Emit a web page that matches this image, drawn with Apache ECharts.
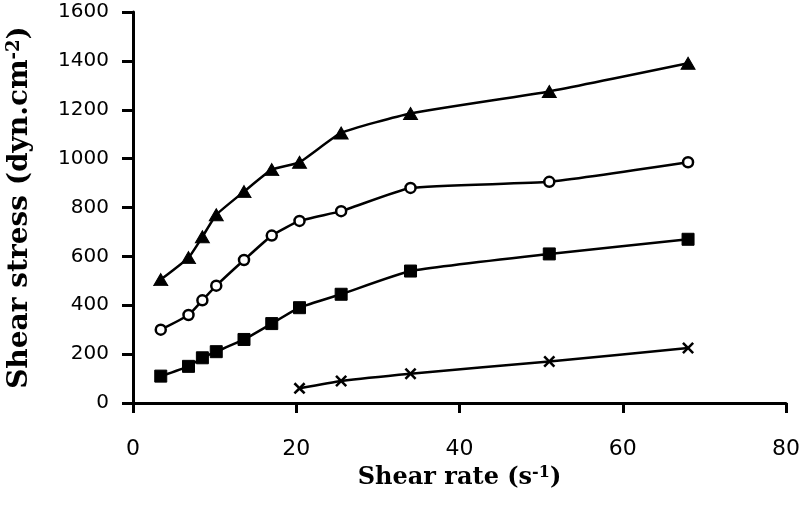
<!DOCTYPE html>
<html>
<head>
<meta charset="utf-8">
<script src="https://cdn.jsdelivr.net/npm/echarts@6/dist/echarts.min.js"></script>
<style>
html,body{margin:0;padding:0;background:#fff;}
#chart{width:799px;height:514px;}
</style>
</head>
<body>
<div id="chart"></div>
<script>
// Data
const shearRate = [3.4, 6.8, 8.5, 10.2, 13.6, 17, 20.4, 25.5, 34, 51, 68];
const triangleStress = [505, 595, 680, 770, 865, 955, 985, 1105, 1185, 1275, 1390];
const circleStress = [300, 360, 420, 480, 585, 685, 745, 785, 880, 905, 985];
const squareStress = [110, 150, 185, 210, 260, 325, 390, 445, 540, 610, 670];
const crossRate = [20.4, 25.5, 34, 51, 68];
const crossStress = [60, 90, 120, 170, 225];
const xTicks = [0, 20, 40, 60, 80];
const yTicks = [0, 200, 400, 600, 800, 1000, 1200, 1400, 1600];

const pairs = (xs, ys) => xs.map((x, i) => [x, ys[i]]);
const crossPath = 'path://M0,1.5L1.5,0L5,3.5L8.5,0L10,1.5L6.5,5L10,8.5L8.5,10L5,6.5L1.5,10L0,8.5L3.5,5Z';

const lineBase = {
  type: 'line',
  smooth: 0.15,
  lineStyle: { color: '#000', width: 2.5 },
  emphasis: { disabled: true },
  z: 2
};

const chart = echarts.init(document.getElementById('chart'), null, { renderer: 'canvas' });
chart.setOption({
  animation: false,
  backgroundColor: '#fff',
  grid: { left: 133, right: 13, top: 12, bottom: 111, containLabel: false, outerBoundsMode: 'none' },
  xAxis: {
    type: 'value',
    min: xTicks[0],
    max: xTicks[xTicks.length - 1],
    interval: 20,
    name: 'Shear rate (s{sup|-1})',
    nameLocation: 'middle',
    nameGap: 47,
    nameTextStyle: {
      fontFamily: 'DejaVu Serif', fontWeight: 'bold', fontSize: 24, color: '#000',
      rich: { sup: { fontFamily: 'DejaVu Serif', fontWeight: 'bold', fontSize: 16, color: '#000', verticalAlign: 'top', padding: [0, 0, 10, 0] } }
    },
    axisLine: { show: true, lineStyle: { color: '#000', width: 3 } },
    axisTick: { show: true, length: 10, lineStyle: { color: '#000', width: 3 } },
    axisLabel: { margin: 35, fontFamily: 'DejaVu Sans', fontSize: 22, color: '#000', formatter: v => String(v) },
    splitLine: { show: false }
  },
  yAxis: {
    type: 'value',
    min: yTicks[0],
    max: yTicks[yTicks.length - 1],
    interval: 200,
    name: 'Shear stress (dyn.cm{sup|-2})',
    nameLocation: 'middle',
    nameRotate: 90,
    nameGap: 98,
    nameTextStyle: {
      fontFamily: 'DejaVu Serif', fontWeight: 'bold', fontSize: 28, color: '#000',
      rich: { sup: { fontFamily: 'DejaVu Serif', fontWeight: 'bold', fontSize: 18, color: '#000', verticalAlign: 'top', padding: [0, 0, 12, 0] } }
    },
    axisLine: { show: true, lineStyle: { color: '#000', width: 3 } },
    axisTick: { show: true, length: 11, lineStyle: { color: '#000', width: 3 } },
    axisLabel: { margin: 24, fontFamily: 'DejaVu Sans', fontSize: 20, color: '#000', formatter: v => String(v) },
    splitLine: { show: false }
  },
  series: [
    Object.assign({}, lineBase, {
      name: 'triangle',
      data: pairs(shearRate, triangleStress),
      symbol: 'triangle', symbolSize: [14, 12],
      itemStyle: { color: '#000', borderColor: '#000', borderWidth: 1 }
    }),
    Object.assign({}, lineBase, {
      name: 'circle',
      data: pairs(shearRate, circleStress),
      symbol: 'circle', symbolSize: 10,
      itemStyle: { color: '#fff', borderColor: '#000', borderWidth: 2.5 }
    }),
    Object.assign({}, lineBase, {
      name: 'square',
      data: pairs(shearRate, squareStress),
      symbol: 'rect', symbolSize: 12,
      itemStyle: { color: '#000', borderColor: '#000', borderWidth: 1 }
    }),
    Object.assign({}, lineBase, {
      name: 'cross',
      data: pairs(crossRate, crossStress),
      symbol: crossPath, symbolSize: 12,
      itemStyle: { color: '#000', borderWidth: 0 }
    })
  ]
});
</script>
</body>
</html>
